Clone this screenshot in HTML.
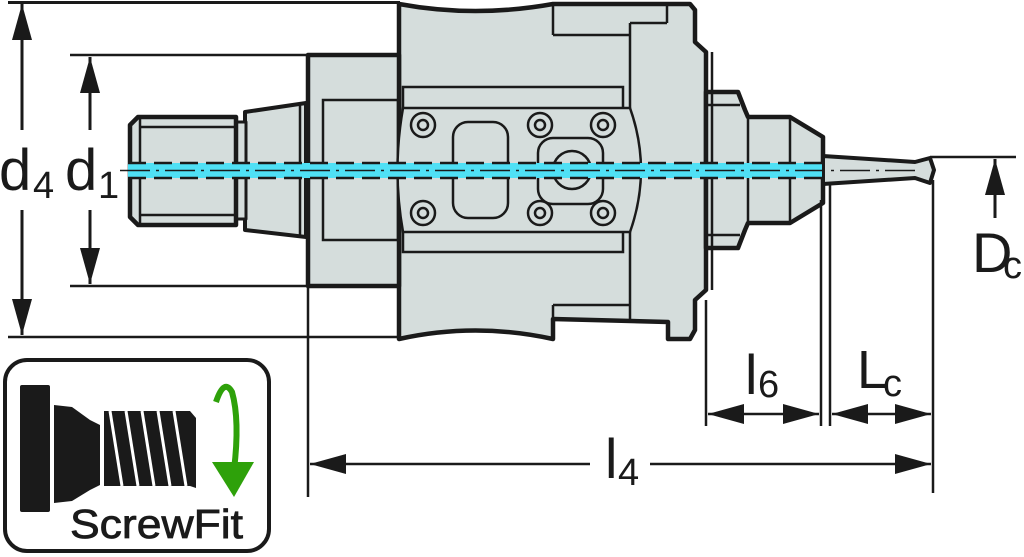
<!DOCTYPE html>
<html><head><meta charset="utf-8"><style>
html,body{margin:0;padding:0;background:#fff;width:1024px;height:557px;overflow:hidden}
svg{display:block}
text{font-family:"Liberation Sans",sans-serif;fill:#1a1a1a}
</style></head><body>
<svg width="1024" height="557" viewBox="0 0 1024 557" xmlns="http://www.w3.org/2000/svg">
<defs>
<marker id="ah" viewBox="0 0 36 20" refX="36" refY="10" markerWidth="36" markerHeight="20" markerUnits="userSpaceOnUse" orient="auto-start-reverse">
<path d="M0,0 L36,10 L0,20 Z" fill="#1a1a1a"/></marker>
</defs>
<g stroke="#1a1a1a" fill="none">
<line x1="8" y1="2.5" x2="400" y2="2.5" stroke-width="3"/>
<line x1="8" y1="337" x2="400" y2="337" stroke-width="2.5"/>
<line x1="70" y1="55" x2="308" y2="55" stroke-width="2.5"/>
<line x1="70" y1="286" x2="308" y2="286" stroke-width="2.5"/>
<line x1="22" y1="130" x2="22" y2="4" stroke-width="3" marker-end="url(#ah)"/>
<line x1="22" y1="210" x2="22" y2="335" stroke-width="3" marker-end="url(#ah)"/>
<line x1="90" y1="130" x2="90" y2="57" stroke-width="3" marker-end="url(#ah)"/>
<line x1="90" y1="210" x2="90" y2="284" stroke-width="3" marker-end="url(#ah)"/>
</g>
<g stroke="#1a1a1a" fill="#d5dddc" stroke-linejoin="round">
<path d="M399,4 Q475,18 553,4 L690,4 L695,10 L695,42 L706,52 L706,290 L695,300 L695,330 L690,339 L668,339 L668,322 L553,319 L553,339 Q475,322 399,339 Z" stroke-width="4.5"/>
<rect x="308" y="55" width="91" height="231" stroke-width="4.5"/>
<path d="M245,112 L306,103 L306,237 L245,230 Z" stroke-width="4"/>
<rect x="236" y="122" width="10" height="97" stroke-width="3"/>
<path d="M130,125 L138,117 L236,117 L236,225 L138,225 L130,217 Z" stroke-width="4.5"/>
<path d="M706,92 L738,92 L745,110 L748,117 L790,117 L823,137 L823,203 L790,223 L748,223 L745,230 L738,248 L706,248 Z" stroke-width="4.5"/>
<path d="M823,156 L915,162 L930,158 L934,170 L930,183 L915,178 L823,184 Z" stroke-width="4"/>
</g>
<g stroke="#1a1a1a" fill="none" stroke-width="2.5">
<line x1="140" y1="127" x2="236" y2="127"/><line x1="140" y1="215" x2="236" y2="215"/>
<line x1="140" y1="118" x2="140" y2="224"/>
<line x1="300" y1="104" x2="300" y2="236"/>
<rect x="323" y="100" width="75" height="140"/>
<line x1="553" y1="4" x2="553" y2="35"/><line x1="553" y1="35" x2="630" y2="35"/>
<line x1="630" y1="23" x2="667" y2="23"/><line x1="667" y1="4" x2="667" y2="23"/>
<line x1="630" y1="23" x2="630" y2="322"/>
<line x1="553" y1="305" x2="630" y2="305"/><line x1="553" y1="305" x2="553" y2="319"/>
<line x1="712" y1="52" x2="712" y2="290"/>
<rect x="403" y="87" width="220" height="165"/>
<path d="M403,108 L630,108 Q652,170 630,232 L403,232 Q392,170 403,108 Z" fill="#d5dddc"/>
<rect x="453" y="122" width="55" height="96" rx="15"/>
<rect x="538" y="138" width="65" height="66" rx="15"/>
<circle cx="572" cy="170" r="19"/>
<g>
<circle cx="423" cy="125" r="12"/><circle cx="423" cy="125" r="5"/>
<circle cx="540" cy="125" r="12"/><circle cx="540" cy="125" r="5"/>
<circle cx="603" cy="125" r="12"/><circle cx="603" cy="125" r="5"/>
<circle cx="423" cy="213" r="12"/><circle cx="423" cy="213" r="5"/>
<circle cx="540" cy="213" r="12"/><circle cx="540" cy="213" r="5"/>
<circle cx="603" cy="213" r="12"/><circle cx="603" cy="213" r="5"/>
</g>
<line x1="706" y1="105" x2="740" y2="105"/><line x1="706" y1="235" x2="740" y2="235"/>
<line x1="748" y1="117" x2="748" y2="223"/><line x1="790" y1="117" x2="790" y2="223"/>
</g>
<rect x="128" y="163" width="694" height="15" fill="#4fe0f5"/>
<g stroke="#1a1a1a" stroke-width="2.5" fill="none">
<line x1="128" y1="163" x2="822" y2="163" stroke-dasharray="18,8"/>
<line x1="128" y1="178" x2="822" y2="178" stroke-dasharray="18,8"/>
<line x1="120" y1="170.5" x2="920" y2="170.5" stroke-width="1.5" stroke-dasharray="30,6,3,6"/>
</g>
<g stroke="#1a1a1a" stroke-width="2.5" fill="none">
<line x1="308" y1="286" x2="308" y2="497"/>
<line x1="706" y1="300" x2="706" y2="426"/>
<line x1="821" y1="200" x2="821" y2="426"/>
<line x1="830" y1="184" x2="830" y2="426"/>
<line x1="933" y1="180" x2="933" y2="493"/>
<line x1="930" y1="157" x2="1016" y2="157"/>
<line x1="708" y1="414" x2="819" y2="414" marker-start="url(#ah)" marker-end="url(#ah)"/>
<line x1="832" y1="414" x2="931" y2="414" marker-start="url(#ah)" marker-end="url(#ah)"/>
<line x1="590" y1="464" x2="310" y2="464" marker-end="url(#ah)"/>
<line x1="650" y1="464" x2="931" y2="464" marker-end="url(#ah)"/>
<line x1="995" y1="218" x2="995" y2="159" stroke-width="3" marker-end="url(#ah)"/>
</g>
<text x="-1" y="190" font-size="58">d</text><text x="33" y="198" font-size="38">4</text>
<text x="65" y="190" font-size="58">d</text><text x="98" y="198" font-size="38">1</text>
<text x="972" y="272" font-size="56">D</text><text x="1003" y="278" font-size="38">c</text>
<text x="745" y="394" font-size="56">l</text><text x="758" y="397" font-size="38">6</text>
<text x="857" y="388" font-size="54">L</text><text x="883" y="396" font-size="38">c</text>
<text x="605" y="478" font-size="56">l</text><text x="618" y="485" font-size="38">4</text>
<rect x="5" y="360" width="264" height="191" rx="22" fill="#fff" stroke="#1a1a1a" stroke-width="4"/>
<g fill="#1a1a1a">
<rect x="20" y="385" width="30" height="127" rx="2"/>
<path d="M54,405 L72,407 L90,420 L90,490 L72,501 L54,503 Z"/>
<path d="M90,420 L100,425 L100,485 L90,490 Z"/>
<path d="M104,411 L190,411 L196,418 L196,488 L190,486 L104,486 Z"/>
</g>
<g stroke="#fff" stroke-width="3">
<line x1="110" y1="411" x2="122" y2="486"/><line x1="126" y1="411" x2="138" y2="486"/>
<line x1="142" y1="411" x2="154" y2="486"/><line x1="158" y1="411" x2="170" y2="486"/>
<line x1="174" y1="411" x2="186" y2="486"/>
</g>
<path d="M216,402 Q224,378 232,392 Q240,420 234,470" fill="none" stroke="#2ea10a" stroke-width="6"/>
<path d="M212,462 L254,462 L234,497 Z" fill="#2ea10a"/>
<text x="70" y="538" font-size="41" font-family="DejaVu Sans,sans-serif" textLength="173" lengthAdjust="spacingAndGlyphs" stroke="#1a1a1a" stroke-width="0.8">ScrewFit</text>
</svg>
</body></html>
